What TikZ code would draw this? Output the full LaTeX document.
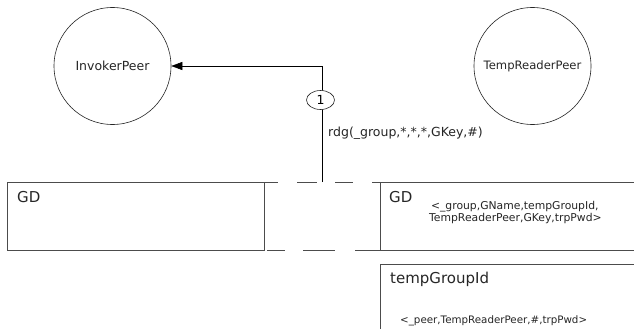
\documentclass[tikz,border=0pt]{standalone}
\usepackage{fontspec}
\setmainfont{DejaVu Sans}
\usetikzlibrary{shapes.geometric,arrows.meta}
\begin{document}
\begin{tikzpicture}[x=1pt,y=-1pt,
  line/.style={draw=black!70,line width=0.7pt},
  peer/.style={circle,draw=black!85,line width=0.6pt,minimum size=117pt,inner sep=0pt,font=\fontsize{11.5}{13}\selectfont,text=black!85},
  title/.style={anchor=north west,inner sep=0pt,font=\fontsize{15}{17}\selectfont,text=black!85},
  tuple/.style={anchor=north west,inner sep=0pt,align=left,text=black!85}]
\useasboundingbox (0,0) rectangle (634,329);
\fill[white] (0,0) rectangle (634,329);

% peers
\node[peer,font=\fontsize{12.5}{14}\selectfont] (inv) at (112.5,66) {InvokerPeer};
\node[peer,font=\fontsize{11.6}{13}\selectfont] (trp) at (532.5,66) {TempReaderPeer};

% left GD space
\draw[line] (264,182) -| (7,250) -- (264,250) -- cycle;
\node[title] (gdl) at (17,191) {GD};

% dashed gap between the two spaces
\draw[line] (264,182) -- (278,182) (297,182) -- (317,182) (335,182) -- (353,182) (372,182) -- (380,182);
\draw[line] (267,250) -- (285,250) (303,250) -- (335,250) (355,250) -- (380,250);

% right GD space
\draw[line] (634,182) -- (380,182) -- (380,250) -- (634,250);
\node[title] (gdr) at (389,191) {GD};
\node[tuple,font=\fontsize{10.8}{12.5}\selectfont] (gdt) at (429,201) {\,{<}\_group,GName,tempGroupId,\\TempReaderPeer,GKey,trpPwd{>}};

% tempGroupId space
\draw[line] (634,264) -- (380,264) -- (380,329);
\node[title] (tg) at (390,272) {tempGroupId};
\node[tuple,font=\fontsize{10.3}{12}\selectfont] (tgt) at (400,315.5) {{<}\_peer,TempReaderPeer,\#,trpPwd{>}};

% read operation
\coordinate (op) at (322,182);
\draw[draw=black,line width=0.6pt,-{Triangle[length=11pt,width=8pt]}] (op) |- (inv);
\node[ellipse,draw=black!85,line width=0.6pt,fill=white,minimum width=28pt,minimum height=19pt,inner sep=0pt,font=\fontsize{12.5}{14}\selectfont] (n1) at (320.5,100) {1};
\node[anchor=west,inner sep=0pt,font=\fontsize{12.5}{14}\selectfont,text=black!85] (rdg) at (328,133) {rdg(\_group,*,*,*,GKey,\#)};
\end{tikzpicture}
\end{document}
